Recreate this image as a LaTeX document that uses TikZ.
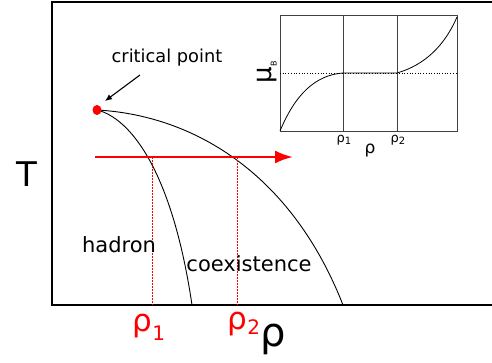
\documentclass[tikz,border=0pt]{standalone}
\usepackage{fontspec}
\setmainfont{DejaVu Sans}
\usepackage{xcolor}
\usetikzlibrary{arrows.meta}
\newcommand{\rhoidx}[3]{ρ\raisebox{#3}{\fontsize{#2}{#2}\selectfont #1}}

\begin{document}
\begin{tikzpicture}[
  x=1pt, y=-1pt,
  axis/.style={line width=1.5pt, black},
  phase/.style={line width=0.9pt, black},
  guide/.style={red, line width=0.5pt, dash pattern=on 2pt off 1pt},
  inset/.style={line width=0.8pt, black!75},
  lbl/.style={font=\fontsize{#1}{#1}\selectfont, inner sep=0pt}
]
\useasboundingbox (0,0) rectangle (492,363);

% main axes
\coordinate (top) at (52,2);
\coordinate (origin) at (52,305);
\draw[axis] (492,2) -- (top) -- (origin) -- (492,305);

% phase boundaries from the critical point
\coordinate (cp) at (97,110);
\coordinate (end1) at (192,305);
\coordinate (end2) at (343,305);
\draw[phase] (cp) .. controls (130,118) and (172,170) .. (end1);
\draw[phase] (cp) .. controls (190,115) and (290,170) .. (end2);
\fill[red] (cp) ellipse (4.5pt and 5pt);

% isotherm and the two densities
\coordinate (arrstart) at (95,157);
\coordinate (arrend) at (293,157);
\coordinate (r1top) at (152,157);
\coordinate (r1bot) at (152,305);
\coordinate (r2top) at (237,157);
\coordinate (r2bot) at (237,305);
\draw[guide] (r1top) -- (r1bot);
\draw[guide] (r2top) -- (r2bot);
\draw[red, line width=2.4pt, -{Latex[length=18pt, width=13pt]}] (arrstart) -- (arrend);

% labels
\node[lbl=17.8] (cptext) at (167,58) {critical point};
\coordinate (cptip) at (105,101);
\draw[line width=1.1pt, -{Latex[length=7pt, width=6pt]}] (140,75) -- (cptip);
\node[lbl=34] (tlabel) at (27,174) {T};
\node[lbl=21] (hadron) at (119,245) {hadron};
\node[lbl=21] (coex) at (249,264) {coexistence};
\node[lbl=31, red] (rho1) at (149,327) {\rhoidx{1}{20}{-0.3em}};
\node[lbl=31, red] (rho2) at (244,324) {\rhoidx{2}{20}{-0.15em}};
\node[lbl=40] (rho) at (273,339) {ρ};

% inset: chemical potential against density
\draw[inset] (280,15) rectangle (457,131);
\draw[inset] (343,15) -- (343,131);
\draw[inset] (397,15) -- (397,131);
\draw[black, line width=0.7pt, dotted] (280,73) -- (457,73);
\draw[black, line width=0.8pt] (280,131) .. controls (295,95) and (315,75) .. (343,73)
  -- (397,73) .. controls (425,65) and (445,45) .. (457,17);
\node[lbl=13] (in1) at (344,140) {\rhoidx{1}{10}{-0.2em}};
\node[lbl=13] (in2) at (398,140) {\rhoidx{2}{10}{-0.2em}};
\node[lbl=17] (inrho) at (370,151) {ρ};
\node[lbl=26, rotate=90] (mu) at (267,72) {μ\raisebox{-0.2em}{\fontsize{8}{8}\selectfont B}};
\end{tikzpicture}
\end{document}
